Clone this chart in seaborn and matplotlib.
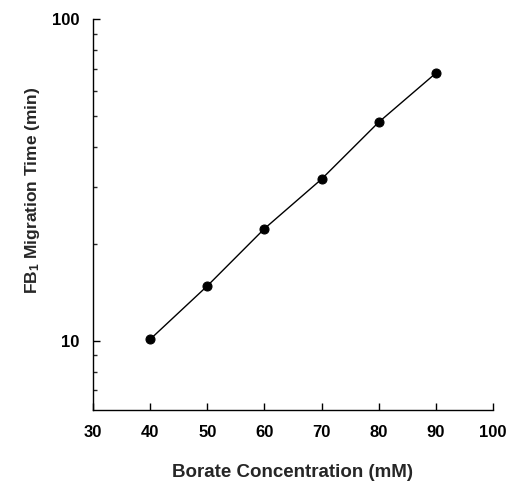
import matplotlib
matplotlib.use("Agg")
import matplotlib.pyplot as plt
import matplotlib.ticker as mticker
import seaborn as sns
import pandas as pd

# data
borate_mM = [40, 50, 60, 70, 80, 90]
migration_min = [10.1, 14.8, 22.3, 31.8, 47.8, 67.9]
x_ticks = [30, 40, 50, 60, 70, 80, 90, 100]
y_ticks = [10, 100]

df = pd.DataFrame({"borate": borate_mM, "time": migration_min})

sns.set_style("ticks")
plt.rcParams['font.family'] = ['Liberation Sans', 'DejaVu Sans']
plt.rcParams['font.weight'] = 'bold'
plt.rcParams['mathtext.default'] = 'regular'

fig = plt.figure(figsize=(5.08, 4.86), dpi=100)
ax = fig.add_axes([0.1835, 0.1564, 0.7865, 0.8039])

sns.lineplot(data=df, x="borate", y="time", color="black", linewidth=1.0,
             marker="o", markersize=6.5, markeredgecolor="black", ax=ax)

ax.set_yscale("log")
ax.set_xlim(30, 100)
ax.set_ylim(6.08, 100)
ax.set_xticks(x_ticks)
ax.set_xticklabels([str(t) for t in x_ticks])
ax.yaxis.set_major_locator(mticker.FixedLocator(y_ticks))
ax.yaxis.set_major_formatter(mticker.FixedFormatter([str(t) for t in y_ticks]))
ax.yaxis.set_minor_locator(mticker.LogLocator(base=10, subs=range(2, 10)))
ax.yaxis.set_minor_formatter(mticker.NullFormatter())

ax.tick_params(axis="both", which="major", direction="in", length=5, width=1,
               labelsize=12, pad=10, colors="black")
ax.tick_params(axis="y", which="minor", direction="in", length=3, width=1)
ax.tick_params(axis="x", pad=11)
for lab in ax.get_xticklabels() + ax.get_yticklabels():
    lab.set_fontweight("bold")

sns.despine(ax=ax)
for s in ["left", "bottom"]:
    ax.spines[s].set_linewidth(1.0)
    ax.spines[s].set_color("black")

ax.set_xlabel("Borate Concentration (mM)", fontsize=13.5, fontweight="bold", labelpad=17)
ax.set_ylabel(r"FB$_1$ Migration Time (min)", fontsize=12.5, fontweight="bold")
ax.yaxis.set_label_coords(-0.128, 0.563)

fig.savefig("out.png", dpi=100)
